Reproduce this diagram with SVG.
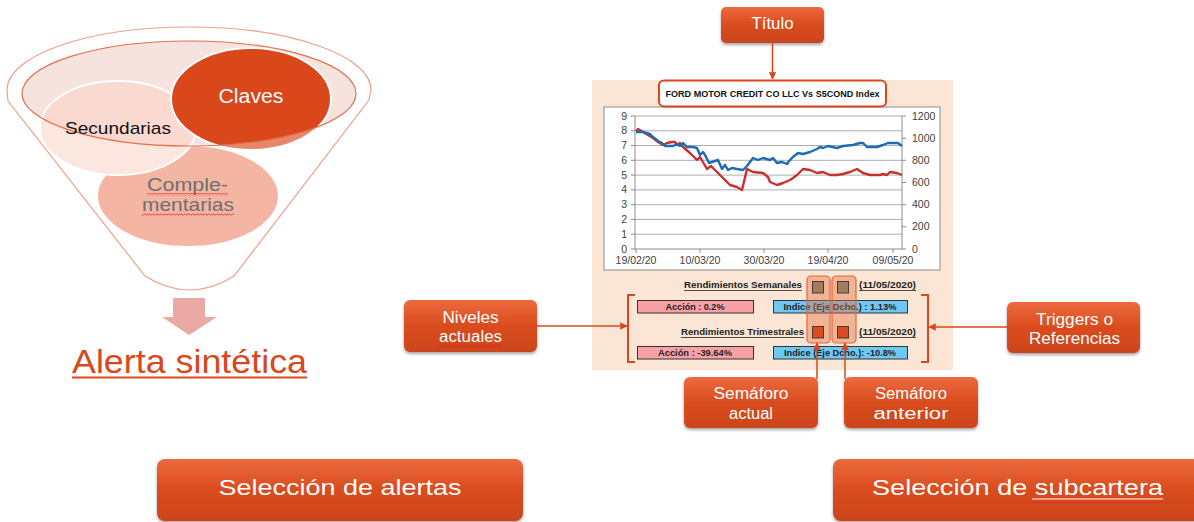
<svg xmlns="http://www.w3.org/2000/svg" width="1194" height="522" viewBox="0 0 1194 522">
<defs>
<linearGradient id="btn" x1="0" y1="0" x2="0" y2="1">
<stop offset="0" stop-color="#EC6A3E"/>
<stop offset="0.5" stop-color="#D94C1E"/>
<stop offset="1" stop-color="#CC451A"/>
</linearGradient>
<filter id="sh" x="-10%" y="-10%" width="120%" height="140%">
<feDropShadow dx="0" dy="2" stdDeviation="1.8" flood-color="#000" flood-opacity="0.35"/>
</filter>
<marker id="ah" viewBox="0 0 10 10" refX="9" refY="5" markerWidth="5" markerHeight="5" orient="auto-start-reverse">
<path d="M0,0 L10,5 L0,10 Z" fill="#D9471B"/>
</marker>
<pattern id="wave" width="4" height="3" patternUnits="userSpaceOnUse">
<path d="M0,2 L1,0.6 L3,2.4 L4,1" fill="none" stroke="#E02020" stroke-width="0.7"/>
</pattern>
</defs>
<style>
text{font-family:"Liberation Sans",Arial,sans-serif}
.box{fill:url(#btn);filter:url(#sh)}
.wt{fill:#fff;font-size:16px;text-anchor:middle}
.con{stroke:#D9471B;stroke-width:1.5;fill:none}
.lbl{font-size:10.5px;fill:#404040}
.grid{stroke:#ADADAD;stroke-width:1}
.rb{font-size:9px;font-weight:bold;fill:#222}
.pk{fill:#F9A0A6;stroke:#333;stroke-width:1}
.bl{fill:#6EC8F6;stroke:#333;stroke-width:1}
.hl{fill:#E8703F;fill-opacity:0.42;stroke:#E3663D;stroke-width:1.2}
</style>
<rect width="1194" height="522" fill="#fff"/>

<g id="funnel">
<path d="M7,90 A182,63 0 0 1 371,90 L369,100 L234,276 Q190,304 145,276 L8,101 Z" fill="#fff" stroke="#E2704B" stroke-width="1.2"/>
<ellipse cx="189" cy="93.5" rx="167" ry="52.5" fill="#F7E3DE"/>
<ellipse cx="188" cy="196" rx="91" ry="51" fill="#EE8F72" stroke="#fff" stroke-width="2"/>
<ellipse cx="118" cy="128" rx="78" ry="47" fill="#F9D9D0" stroke="#fff" stroke-width="2"/>
<ellipse cx="251" cy="99" rx="80" ry="51" fill="#D9471B" stroke="#fff" stroke-width="2"/>
<path d="M0,0 H380 V300 H0 Z M22,93.5 A167,52.5 0 1 0 356,93.5 A167,52.5 0 1 0 22,93.5 Z" fill="#fff" fill-opacity="0.35" fill-rule="evenodd"/>
<ellipse cx="189" cy="93.5" rx="167" ry="52.5" fill="none" stroke="#E2704B" stroke-width="1.2"/>
<text x="251" y="103" font-size="20" fill="#fff" text-anchor="middle" textLength="65" lengthAdjust="spacingAndGlyphs">Claves</text>
<text x="65" y="134" font-size="17" fill="#111" textLength="106" lengthAdjust="spacingAndGlyphs">Secundarias</text>
<text x="147" y="191" font-size="19" fill="#6E6E6E" textLength="81" lengthAdjust="spacingAndGlyphs">Comple-</text>
<text x="142" y="211" font-size="19" fill="#6E6E6E" textLength="92" lengthAdjust="spacingAndGlyphs">mentarias</text>
<rect x="147" y="193" width="81" height="3" fill="url(#wave)"/>
<rect x="142" y="213" width="92" height="3" fill="url(#wave)"/>
</g>

<g id="arrow-down">
<path d="M173,298 H205 V317 H217 L189,335 L162,317 H173 Z" fill="#EAAAA3"/>
</g>

<g id="alerta">
<text x="72" y="373" font-size="33" fill="#D9471B" textLength="235" lengthAdjust="spacingAndGlyphs">Alerta sintética</text>
<line x1="72" y1="377.5" x2="307" y2="377.5" stroke="#D9471B" stroke-width="2"/>
</g>

<g id="btn-alertas">
<rect class="box" x="157" y="459" width="366" height="62" rx="8"/>
<text x="340" y="495" font-size="22" fill="#fff" text-anchor="middle" textLength="243" lengthAdjust="spacingAndGlyphs">Selección de alertas</text>
</g>

<g id="btn-subcartera">
<rect class="box" x="833" y="459" width="375" height="62" rx="8"/>
<text x="872" y="495" font-size="22" fill="#fff" textLength="291" lengthAdjust="spacingAndGlyphs">Selección de subcartera</text>
<line x1="1032" y1="499" x2="1163" y2="499" stroke="#fff" stroke-width="1"/>
<rect x="1032" y="500" width="131" height="3" fill="url(#wave)"/>
</g>

<g id="titulo">
<rect class="box" x="721" y="7" width="103" height="36" rx="5"/>
<text class="wt" x="772.5" y="29" textLength="42" lengthAdjust="spacingAndGlyphs">Título</text>
</g>

<g id="chart">
<rect x="592" y="80" width="361" height="290" fill="#FBE5D5"/>
<rect x="604" y="107" width="336" height="163" fill="#fff" stroke="#8C8C8C" stroke-width="1"/>
<rect x="659" y="80.5" width="227" height="26" rx="5" fill="#fff" stroke="#D9471B" stroke-width="2"/>
<text x="772.5" y="97" font-size="9.5" font-weight="bold" fill="#111" text-anchor="middle" textLength="214" lengthAdjust="spacingAndGlyphs">FORD MOTOR CREDIT CO LLC Vs S5COND Index</text>
<g class="grid">
<line x1="635" y1="116" x2="902" y2="116"/>
<line x1="635" y1="130.8" x2="902" y2="130.8"/>
<line x1="635" y1="145.5" x2="902" y2="145.5"/>
<line x1="635" y1="160.3" x2="902" y2="160.3"/>
<line x1="635" y1="175.1" x2="902" y2="175.1"/>
<line x1="635" y1="189.9" x2="902" y2="189.9"/>
<line x1="635" y1="204.7" x2="902" y2="204.7"/>
<line x1="635" y1="219.4" x2="902" y2="219.4"/>
<line x1="635" y1="234.2" x2="902" y2="234.2"/>
</g>
<g stroke="#8C8C8C" stroke-width="1">
<line x1="635" y1="116" x2="635" y2="249"/>
<line x1="902" y1="116" x2="902" y2="249"/>
<line x1="631" y1="249" x2="906" y2="249"/>
<line x1="631" y1="116" x2="635" y2="116"/><line x1="631" y1="130.8" x2="635" y2="130.8"/><line x1="631" y1="145.5" x2="635" y2="145.5"/><line x1="631" y1="160.3" x2="635" y2="160.3"/><line x1="631" y1="175.1" x2="635" y2="175.1"/><line x1="631" y1="189.9" x2="635" y2="189.9"/><line x1="631" y1="204.7" x2="635" y2="204.7"/><line x1="631" y1="219.4" x2="635" y2="219.4"/><line x1="631" y1="234.2" x2="635" y2="234.2"/>
<line x1="902" y1="116" x2="906" y2="116"/><line x1="902" y1="138.2" x2="906" y2="138.2"/><line x1="902" y1="160.3" x2="906" y2="160.3"/><line x1="902" y1="182.5" x2="906" y2="182.5"/><line x1="902" y1="204.7" x2="906" y2="204.7"/><line x1="902" y1="226.8" x2="906" y2="226.8"/>
<line x1="636" y1="249" x2="636" y2="253"/><line x1="700" y1="249" x2="700" y2="253"/><line x1="764" y1="249" x2="764" y2="253"/><line x1="828" y1="249" x2="828" y2="253"/><line x1="893" y1="249" x2="893" y2="253"/>
</g>
<g class="lbl" text-anchor="end">
<text x="627" y="119.5">9</text><text x="627" y="134.3">8</text><text x="627" y="149">7</text><text x="627" y="163.8">6</text><text x="627" y="178.6">5</text><text x="627" y="193.4">4</text><text x="627" y="208.2">3</text><text x="627" y="222.9">2</text><text x="627" y="237.7">1</text><text x="627" y="252.5">0</text>
</g>
<g class="lbl">
<text x="912" y="119.5">1200</text><text x="912" y="141.7">1000</text><text x="912" y="163.8">800</text><text x="912" y="186">600</text><text x="912" y="208.2">400</text><text x="912" y="230.3">200</text><text x="912" y="252.5">0</text>
</g>
<g class="lbl" text-anchor="middle">
<text x="636" y="264">19/02/20</text><text x="700" y="264">10/03/20</text><text x="764" y="264">30/03/20</text><text x="828" y="264">19/04/20</text><text x="893" y="264">09/05/20</text>
</g>
<polyline fill="none" stroke="#C8302C" stroke-width="2.4" stroke-linejoin="round" points="636,131 638,129 643,132 648,135 653,138 658,142 663,145 667,143 672,142 675,142 677,145 680,143 683,147 690,153 697,160 700,157 707,169 711,166 717,172 723,178 725,180 730,185 737,187 742,190 747,169 753,172 763,173 768,177 770,182 777,185 783,183 790,180 793,178 797,175 803,169 810,170 817,173 823,172 830,175 837,175 843,174 850,172 857,169 863,173 870,175 880,175 883,174 887,175 890,172 897,173 902,175"/>
<polyline fill="none" stroke="#1C6BB3" stroke-width="2.4" stroke-linejoin="round" points="636,132 643,132 650,134 653,137 658,141 662,143 665,146 673,146 677,144 680,146 683,143 687,147 693,147 697,148 700,155 703,152 705,155 709,163 715,161 718,160 722,169 725,165 728,170 732,168 737,169 743,170 747,166 750,162 753,158 758,160 763,158 770,160 773,158 777,163 782,162 787,164 789,161 793,157 798,153 803,154 810,152 817,149 820,147 823,148 828,146 837,148 843,146 853,145 860,143 863,143 867,147 877,147 883,145 888,143 895,143 898,143 902,146"/>

<text class="rb" x="802" y="288" text-anchor="end" textLength="118" lengthAdjust="spacingAndGlyphs">Rendimientos Semanales</text>
<line x1="684" y1="290.5" x2="802" y2="290.5" stroke="#222" stroke-width="0.8"/>
<text class="rb" x="859" y="288" textLength="57" lengthAdjust="spacingAndGlyphs">(11/05/2020)</text>
<line x1="859" y1="290.5" x2="916" y2="290.5" stroke="#222" stroke-width="0.8"/>
<rect class="pk" x="637.5" y="300.5" width="116" height="12.5"/>
<text class="rb" x="695" y="310" text-anchor="middle" textLength="59" lengthAdjust="spacingAndGlyphs">Acción : 0.2%</text>
<rect class="bl" x="773.5" y="300.5" width="134" height="12.5"/>
<text class="rb" x="840" y="310" text-anchor="middle" textLength="113" lengthAdjust="spacingAndGlyphs">Indice (Eje Dcho.) : 1.13%</text>
<text class="rb" x="804" y="335" text-anchor="end" textLength="123" lengthAdjust="spacingAndGlyphs">Rendimientos Trimestrales</text>
<line x1="681" y1="337.5" x2="804" y2="337.5" stroke="#222" stroke-width="0.8"/>
<text class="rb" x="859" y="335" textLength="57" lengthAdjust="spacingAndGlyphs">(11/05/2020)</text>
<line x1="859" y1="337.5" x2="916" y2="337.5" stroke="#222" stroke-width="0.8"/>
<rect class="pk" x="637.5" y="346.5" width="116" height="12.5"/>
<text class="rb" x="695" y="356" text-anchor="middle" textLength="74" lengthAdjust="spacingAndGlyphs">Acción : -39.64%</text>
<rect class="bl" x="773.5" y="346.5" width="134" height="12.5"/>
<text class="rb" x="840" y="356" text-anchor="middle" textLength="112" lengthAdjust="spacingAndGlyphs">Indice (Eje Dcho.): -10.8%</text>
<rect class="hl" x="807" y="276" width="23" height="67" rx="4"/>
<rect class="hl" x="832" y="276" width="24" height="67" rx="4"/>
<rect x="812.5" y="281.5" width="11" height="11.5" fill="#A17C5E" stroke="#4A3A30" stroke-width="1"/>
<rect x="837.5" y="281.5" width="11" height="11.5" fill="#A17C5E" stroke="#4A3A30" stroke-width="1"/>
<rect x="812.5" y="326.5" width="11" height="11.5" fill="#DA4B22" stroke="#4A3A30" stroke-width="1"/>
<rect x="837.5" y="326.5" width="11" height="11.5" fill="#DA4B22" stroke="#4A3A30" stroke-width="1"/>
<path d="M635,295 H628 V362 H635" fill="none" stroke="#D9471B" stroke-width="2"/>
<path d="M921,295 H928 V362 H921" fill="none" stroke="#D9471B" stroke-width="2"/>
</g>

<g id="niveles">
<rect class="box" x="404" y="300" width="133" height="52" rx="6"/>
<text class="wt" x="470.5" y="323" textLength="56" lengthAdjust="spacingAndGlyphs">Niveles</text>
<text class="wt" x="470.5" y="342" textLength="63" lengthAdjust="spacingAndGlyphs">actuales</text>
<rect x="439" y="344" width="63" height="3" fill="url(#wave)"/>
</g>

<g id="triggers">
<rect class="box" x="1007" y="302" width="133" height="51" rx="6"/>
<text class="wt" x="1074.5" y="325" textLength="77" lengthAdjust="spacingAndGlyphs">Triggers o</text>
<text class="wt" x="1074.5" y="344" textLength="91" lengthAdjust="spacingAndGlyphs">Referencias</text>
</g>

<g id="semaforo-actual">
<rect class="box" x="684" y="377" width="134" height="51" rx="6"/>
<text class="wt" x="751" y="399" textLength="75" lengthAdjust="spacingAndGlyphs">Semáforo</text>
<text class="wt" x="751" y="419" textLength="44" lengthAdjust="spacingAndGlyphs">actual</text>
</g>

<g id="semaforo-anterior">
<rect class="box" x="844" y="377" width="134" height="51" rx="6"/>
<text class="wt" x="911" y="399" textLength="72" lengthAdjust="spacingAndGlyphs">Semáforo</text>
<text class="wt" x="911" y="419" textLength="75" lengthAdjust="spacingAndGlyphs">anterior</text>
</g>

<g id="connectors">
<line class="con" x1="772.5" y1="43" x2="772.5" y2="79" marker-end="url(#ah)"/>
<line class="con" x1="537" y1="326" x2="627" y2="326" marker-end="url(#ah)"/>
<line class="con" x1="1007" y1="327" x2="929" y2="327" marker-end="url(#ah)"/>
<line class="con" x1="817" y1="379" x2="817" y2="343" marker-end="url(#ah)"/>
<line class="con" x1="845" y1="379" x2="845" y2="343" marker-end="url(#ah)"/>
</g>
</svg>
